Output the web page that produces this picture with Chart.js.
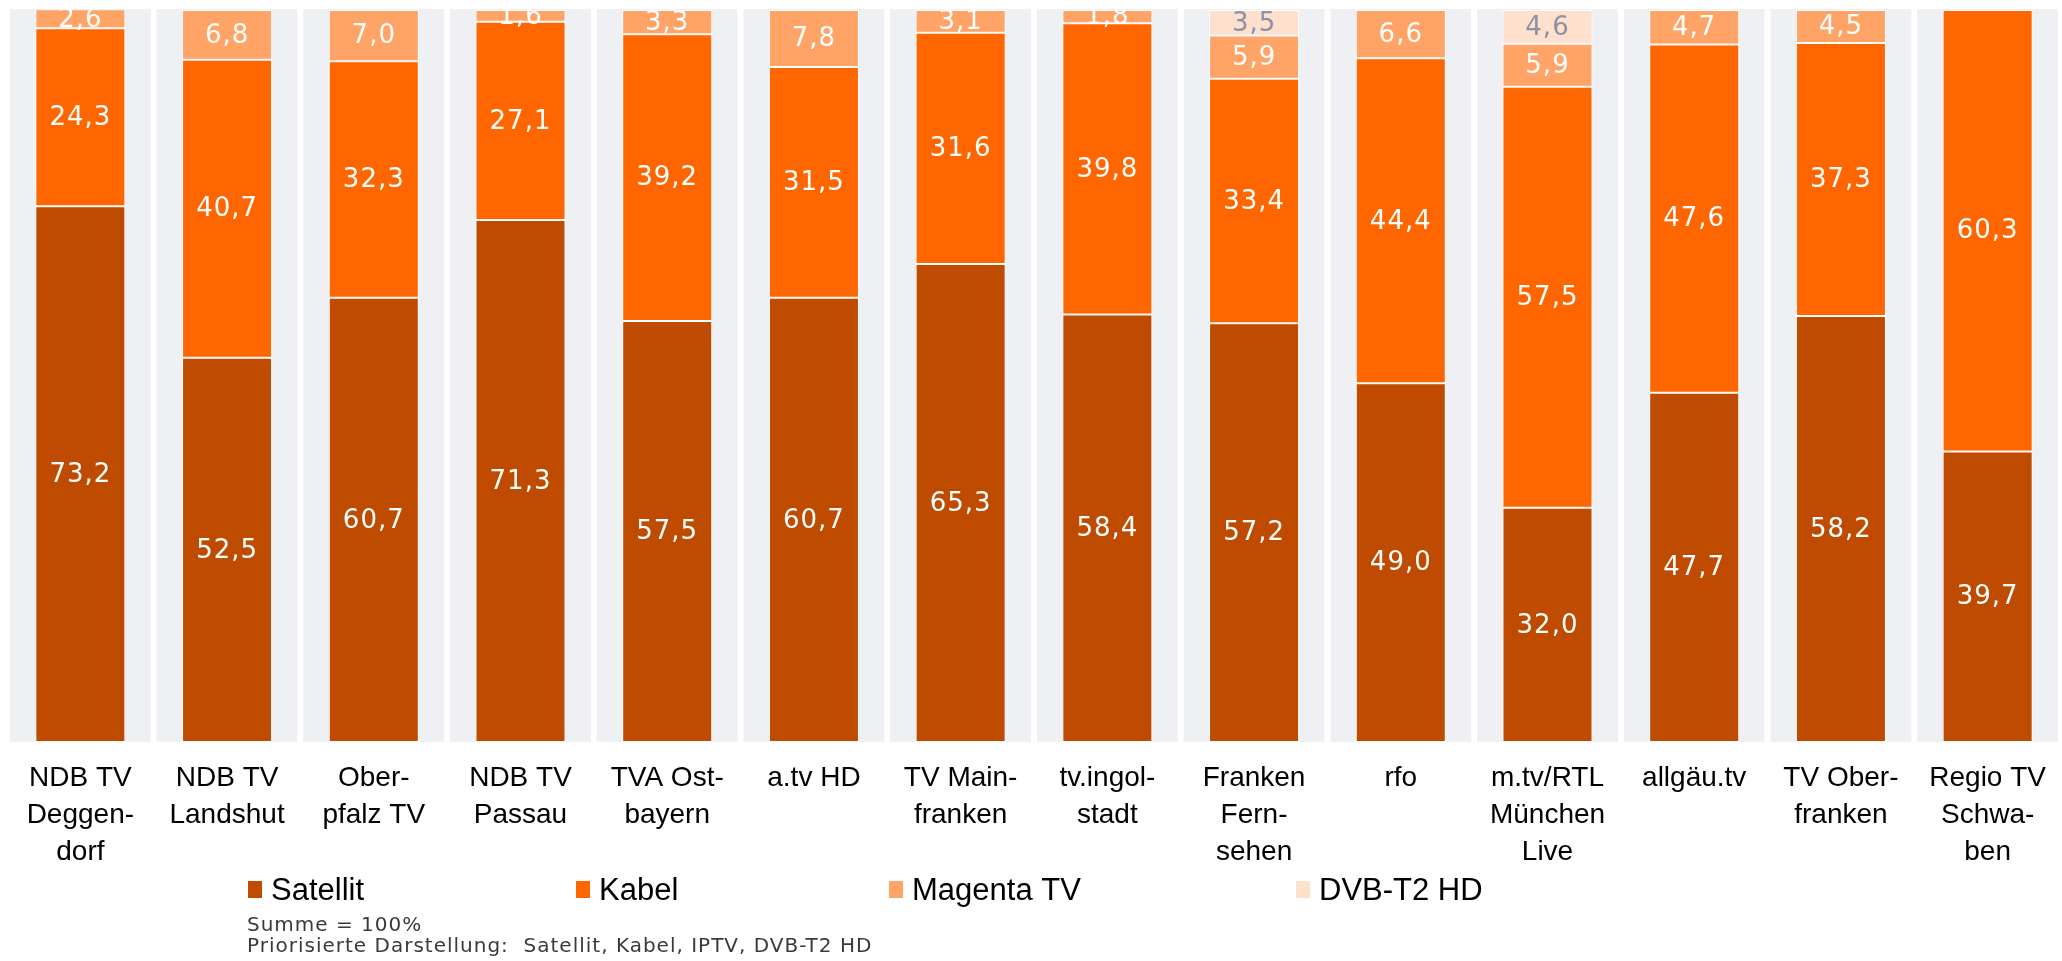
<!DOCTYPE html>
<html>
<head>
<meta charset="utf-8">
<script src="https://cdn.jsdelivr.net/npm/chart.js@4.4.1/dist/chart.umd.min.js"></script>
<style>
  html, body { margin: 0; padding: 0; background: #fff; overflow: hidden; }
  #wrap { position: relative; width: 2062px; height: 961px; }
</style>
</head>
<body>
<div id="wrap"><canvas id="chart"></canvas></div>
<script>
// categories (line breaks as in the original)
const categories = [
  ["NDB TV", "Deggen-", "dorf"],
  ["NDB TV", "Landshut"],
  ["Ober-", "pfalz TV"],
  ["NDB TV", "Passau"],
  ["TVA Ost-", "bayern"],
  ["a.tv HD"],
  ["TV Main-", "franken"],
  ["tv.ingol-", "stadt"],
  ["Franken", "Fern-", "sehen"],
  ["rfo"],
  ["m.tv/RTL", "München", "Live"],
  ["allgäu.tv"],
  ["TV Ober-", "franken"],
  ["Regio TV", "Schwa-", "ben"]
];

const satellit = [73.2, 52.5, 60.7, 71.3, 57.5, 60.7, 65.3, 58.4, 57.2, 49.0, 32.0, 47.7, 58.2, 39.7];
const kabel    = [24.3, 40.7, 32.3, 27.1, 39.2, 31.5, 31.6, 39.8, 33.4, 44.4, 57.5, 47.6, 37.3, 60.3];
const magenta  = [2.6, 6.8, 7.0, 1.6, 3.3, 7.8, 3.1, 1.8, 5.9, 6.6, 5.9, 4.7, 4.5, 0];
const dvbt2    = [0, 0, 0, 0, 0, 0, 0, 0, 3.5, 0, 4.6, 0, 0, 0];

const seriesNames = ["Satellit", "Kabel", "Magenta TV", "DVB-T2 HD"];
const seriesColors = ["#bf4b00", "#ff6600", "#ffa366", "#ffe0cc"];
const labelColors = ["#ffffff", "#ffffff", "#ffffff", "#8a93a5"];

const footnotes = ["Summe = 100%", "Priorisierte Darstellung:  Satellit, Kabel, IPTV, DVB-T2 HD"];

const fmt = v => v.toFixed(1).replace(".", ",");

// grey column behind each bar
const bandPlugin = {
  id: "bands",
  beforeDatasetsDraw(chart) {
    const { ctx, chartArea } = chart;
    const x = chart.scales.x;
    const step = chartArea.width / categories.length;
    ctx.save();
    ctx.fillStyle = "#eef0f4";
    categories.forEach((c, i) => {
      const cx = x.getPixelForValue(i);
      ctx.fillRect(cx - step * 0.48, chartArea.top - 1, step * 0.96, chartArea.bottom - chartArea.top + 1);
    });
    ctx.restore();
  }
};

// numbers inside the segments
const valuePlugin = {
  id: "values",
  afterDatasetsDraw(chart) {
    const { ctx } = chart;
    ctx.save();
    ctx.font = "26px 'DejaVu Sans'";
    ctx.letterSpacing = "1px";
    ctx.textAlign = "center";
    ctx.textBaseline = "middle";
    chart.data.datasets.forEach((ds, di) => {
      const meta = chart.getDatasetMeta(di);
      meta.data.forEach((bar, i) => {
        const v = ds.data[i];
        if (!v) return;
        const p = bar.getProps(["x", "y", "base"], true);
        ctx.fillStyle = labelColors[di];
        ctx.fillText(fmt(v), p.x, (p.y + p.base) / 2 + 1);
      });
    });
    ctx.restore();
  }
};

// category labels, legend and footnote
const textPlugin = {
  id: "texts",
  afterDraw(chart) {
    const { ctx, chartArea } = chart;
    const x = chart.scales.x;
    ctx.save();
    ctx.fillStyle = "#000";
    ctx.font = "28px 'Liberation Sans', Arial, sans-serif";
    ctx.textAlign = "center";
    ctx.textBaseline = "middle";
    categories.forEach((lines, i) => {
      const cx = x.getPixelForValue(i);
      lines.forEach((t, k) => ctx.fillText(t, cx, chartArea.bottom + 36 + k * 37));
    });

    // legend
    const legendX = [248, 576, 889, 1296];
    const legendY = 890;
    ctx.textAlign = "left";
    ctx.font = "31px 'Liberation Sans', Arial, sans-serif";
    seriesNames.forEach((name, i) => {
      ctx.fillStyle = seriesColors[i];
      ctx.fillRect(legendX[i], legendY - 9, 14, 17);
      ctx.fillStyle = "#000";
      ctx.fillText(name, legendX[i] + 23, legendY + 1);
    });

    ctx.fillStyle = "#3a3a3a";
    ctx.font = "20px 'DejaVu Sans', sans-serif";
    ctx.letterSpacing = "1px";
    footnotes.forEach((t, k) => ctx.fillText(t, 247, 926 + k * 21));
    ctx.restore();
  }
};

new Chart(document.getElementById("chart"), {
  type: "bar",
  data: {
    labels: categories,
    datasets: [satellit, kabel, magenta, dvbt2].map((d, i) => ({
      label: seriesNames[i],
      data: d,
      backgroundColor: seriesColors[i],
      borderColor: "#ffffff",
      borderWidth: 1,
      borderSkipped: false,
      barPercentage: 0.6135,
      categoryPercentage: 1
    }))
  },
  options: {
    responsive: true,
    maintainAspectRatio: false,
    animation: false,
    layout: { padding: { left: 7, right: 1, top: 10, bottom: 219 } },
    plugins: { legend: { display: false }, tooltip: { enabled: false } },
    scales: {
      x: { stacked: true, display: false },
      y: { stacked: true, display: false, min: 0, max: 100 }
    }
  },
  plugins: [bandPlugin, valuePlugin, textPlugin]
});
</script>
</body>
</html>
